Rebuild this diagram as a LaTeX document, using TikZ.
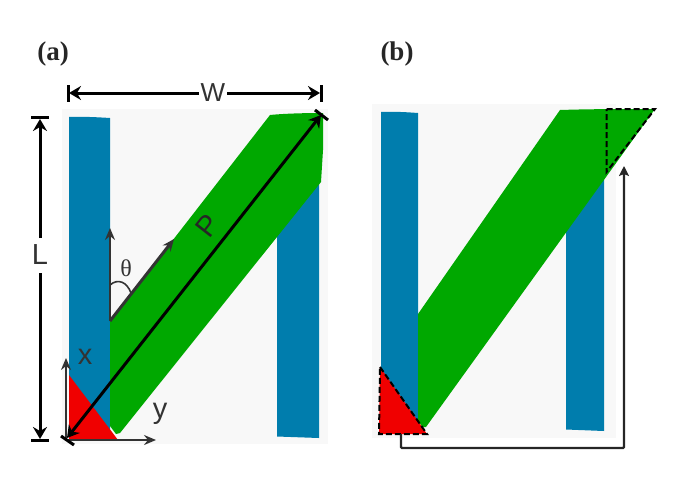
\documentclass[tikz,border=0pt]{standalone}
\usepackage{fontspec}
\setmainfont{Liberation Sans}
\newfontfamily\serifbold{Liberation Serif}
\usetikzlibrary{arrows.meta}
\definecolor{bgpanel}{HTML}{F8F8F8}
\definecolor{bluebar}{HTML}{007DAD}
\definecolor{greenband}{HTML}{00A800}
\definecolor{redtri}{HTML}{F00000}
\definecolor{axisgrey}{HTML}{333333}
\tikzset{
  panel/.style={fill=bgpanel,draw=none},
  barfill/.style={fill=bluebar,draw=none},
  bandfill/.style={fill=greenband,draw=none},
  trifill/.style={fill=redtri,draw=none},
  bigtip/.tip={Stealth[length=12pt,width=14pt,inset=4pt]},
  smalltip/.tip={Stealth[length=12pt,width=10pt,inset=4pt]},
  dimline/.style={black,line width=3pt},
  endbar/.style={black,line width=3pt},
  axisline/.style={axisgrey,line width=2.2pt,-smalltip},
  dashedge/.style={black,line width=2pt,dash pattern=on 6pt off 3pt},
  lbl/.style={inner sep=0pt,font=\fontsize{29}{29}\selectfont,text=axisgrey},
  panellbl/.style={inner sep=0pt,font=\serifbold\bfseries\fontsize{27}{27}\selectfont,text=black!85},
}
\begin{document}
\begin{tikzpicture}[x=1pt,y=-1pt]
\useasboundingbox (0,0) rectangle (685,483);
% ---------- panel (a)
\fill[panel] (62,109) rectangle (328,444);
\fill[barfill] (69,117) .. controls (80,116.5) and (95,117) .. (110,118) -- (110,430) -- (69,430) -- cycle;
\fill[barfill] (277,230) -- (319,175) -- (319,438) -- (277,436.5) -- cycle;
\fill[bandfill] (110,321) -- (270,115) .. controls (285,113.5) and (305,113) .. (323,113) -- (323,150) -- (321,182) -- (120,433) -- (116,434) -- (110,426) -- cycle;
\fill[trifill] (69,375) -- (118,440) -- (69,440) -- cycle;
% angle marks
\coordinate (apex) at (110,321);
\coordinate (uptip) at (110,228);
\coordinate (alongtip) at (174,239);
\draw[axisgrey,line width=2.2pt,-smalltip] (apex) -- (uptip);
\draw[axisgrey,line width=3pt,-smalltip] (apex) -- (alongtip);
\coordinate (arcA) at (110,285);
\coordinate (arcB) at (131,293);
\draw[axisgrey,line width=1.6pt] (arcA) .. controls (118,278) and (127,282) .. (arcB);
\node[inner sep=0pt,font=\fontsize{24}{24}\selectfont\serifbold,text=axisgrey] (theta) at (126,268) {θ};
% axes
\coordinate (origin) at (66,440);
\coordinate (xtip) at (66,358);
\coordinate (ytip) at (156,440);
\draw[axisline] (origin) -- (xtip);
\draw[axisline] (origin) -- (ytip);
\node[lbl] (xlab) at (85,357) {x};
\node[lbl] (ylab) at (160,414) {y};
% width
\coordinate (wl) at (69,93);
\coordinate (wr) at (320,93);
\node[lbl,font=\fontsize{26}{26}\selectfont,fill=white,inner xsep=2pt,inner ysep=1pt] (wlab) at (213,93) {W};
\draw[endbar] (68,85) -- (68,102);
\draw[endbar] (321,85) -- (321,102);
\draw[dimline,-bigtip] (wlab) -- (wr);
\draw[dimline,-bigtip] (wlab) -- (wl);
% length
\coordinate (lt) at (40,119);
\coordinate (lb) at (40,439);
\coordinate (lgapt) at (40,238);
\coordinate (lgapb) at (40,273);
\node[lbl] (llab) at (40,255) {L};
\draw[endbar] (31,117) -- (49,117);
\draw[endbar] (31,440) -- (49,440);
\draw[dimline,-bigtip] (lgapt) -- (lt);
\draw[dimline,-bigtip] (lgapb) -- (lb);
% diagonal P
\coordinate (pt) at (321,115);
\coordinate (pb) at (67,438);
\draw[dimline,bigtip-bigtip] (pb) -- (pt);
\draw[endbar] (315,110) -- (328,120);
\draw[endbar] (61,436) -- (74,445);
\node[lbl,rotate=52,text=black!85] (plab) at (208,226) {P};
\node[panellbl] (apanel) at (53,54) {(a)};
% ---------- panel (b)
\fill[panel] (372,104) rectangle (616,438);
\fill[barfill] (381,112) .. controls (393,111.5) and (405,112) .. (418,113) -- (418,425) -- (381,425) -- cycle;
\fill[barfill] (566,220) -- (604,170) -- (604,431) -- (566,429.5) -- cycle;
\fill[bandfill] (418,314) -- (560,110) .. controls (590,109) and (620,109) .. (655,109) -- (426,427) -- (422,427) -- (418,420) -- cycle;
\fill[trifill] (380,367) -- (427,434) -- (379,434) -- cycle;
\coordinate (ta) at (380,367);
\coordinate (tb) at (427,434);
\coordinate (tc) at (379,434);
\draw[dashedge] (ta) -- (tb) -- (tc) -- cycle;
\coordinate (ga) at (606.5,109);
\coordinate (gb) at (655,109);
\coordinate (gc) at (606.5,172);
\draw[dashedge] (ga) -- (gb) -- (gc) -- cycle;
\coordinate (from) at (401,434);
\coordinate (corner1) at (401,448);
\coordinate (corner2) at (624,448);
\coordinate (to) at (624,166);
\draw[black!85,line width=2.2pt,rounded corners=1pt,-{Stealth[length=10pt,width=10pt,inset=2pt]}] (from) -- (corner1) -- (corner2) -- (to);
\node[panellbl] (bpanel) at (397,54) {(b)};
\end{tikzpicture}
\end{document}
